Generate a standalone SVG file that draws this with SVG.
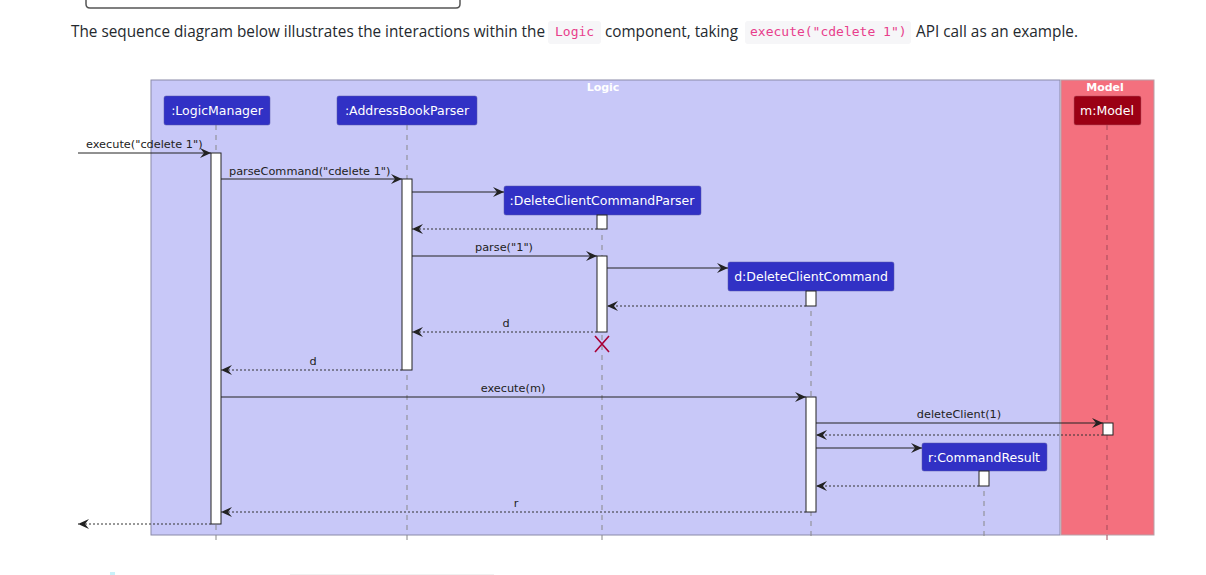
<svg xmlns="http://www.w3.org/2000/svg" width="1206" height="575" viewBox="0 0 1206 575">
  <style>
    .prose { font-family: "Open Sans", "Noto Sans", sans-serif; font-size: 15.5px; fill: #24292e; }
    .code { font-family: "DejaVu Sans Mono", "Liberation Mono", monospace; font-size: 13px; fill: #e83e8c; }
    .codebg { fill: #f6f6f8; }
    .box-title { font-family: "DejaVu Sans", sans-serif; font-size: 11px; font-weight: bold; fill: #ffffff; text-anchor: middle; }
    .part { fill: #3131c5; stroke: #5858a8; stroke-width: 0.5; }
    .part-model { fill: #9b0014; stroke: #b05060; stroke-width: 0.5; }
    .part-label { font-family: "DejaVu Sans", sans-serif; font-size: 12.5px; fill: #ffffff; text-anchor: middle; }
    .life { stroke: #888888; stroke-width: 1; stroke-dasharray: 5 5; fill: none; }
    .life-model { stroke: #a04a5a; stroke-width: 1; stroke-dasharray: 5 5; fill: none; }
    .act { fill: #ffffff; stroke: #222222; stroke-width: 1; }
    .msg { stroke: #222222; stroke-width: 1; fill: none; marker-end: url(#head); }
    .ret { stroke: #333333; stroke-width: 1; stroke-dasharray: 2 2; fill: none; marker-end: url(#head); }
    .lbl { font-family: "DejaVu Sans", sans-serif; font-size: 11.3px; fill: #222222; }
    .mid { text-anchor: middle; }
  </style>
  <defs>
    <marker id="head" viewBox="0 0 12 10" refX="11" refY="5" markerWidth="12" markerHeight="10" markerUnits="userSpaceOnUse" orient="auto">
      <path d="M0,0 L11,5 L0,10 L4,5 Z" fill="#222222"/>
    </marker>
  </defs>

  <rect width="1206" height="575" fill="#ffffff"/>

  <!-- card edge above the paragraph -->
  <path d="M86,-4 L86,4 Q86,8 90,8 L456,8 Q460,8 460,4 L460,-4" fill="none" stroke="#555555" stroke-width="1.5"/>

  <!-- intro paragraph -->
  <g id="intro">
    <text class="prose" x="71" y="37" textLength="474" lengthAdjust="spacingAndGlyphs">The sequence diagram below illustrates the interactions within the</text>
    <rect class="codebg" x="548" y="21" width="53" height="23" rx="3"/>
    <text class="code" x="555" y="36">Logic</text>
    <text class="prose" x="605" y="37" textLength="133" lengthAdjust="spacingAndGlyphs">component, taking</text>
    <rect class="codebg" x="745" y="21" width="166" height="23" rx="3"/>
    <text class="code" x="750" y="36">execute("cdelete 1")</text>
    <text class="prose" x="916" y="37" textLength="162" lengthAdjust="spacingAndGlyphs">API call as an example.</text>
  </g>

  <!-- component boxes -->
  <g id="box-logic">
    <rect x="151" y="80" width="909" height="455" fill="#c8c8f8" stroke="#8a8aa8" stroke-width="1"/>
    <text class="box-title" x="603" y="91">Logic</text>
  </g>
  <g id="box-model">
    <rect x="1061" y="80" width="93" height="455" fill="#f4707e" stroke="#b8a0a8" stroke-width="1"/>
    <text class="box-title" x="1105" y="91">Model</text>
  </g>

  <!-- lifelines -->
  <g id="lifelines">
    <line class="life" x1="216" y1="125" x2="216" y2="541"/>
    <line class="life" x1="407" y1="125" x2="407" y2="541"/>
    <line class="life" x1="602" y1="215" x2="602" y2="541"/>
    <line class="life" x1="811" y1="291" x2="811" y2="541"/>
    <line class="life" x1="984" y1="471" x2="984" y2="541"/>
    <line class="life-model" x1="1107" y1="125" x2="1107" y2="541"/>
  </g>

  <!-- participants -->
  <g id="logic-manager">
    <rect class="part" x="164" y="96" width="106" height="29" rx="2"/>
    <text class="part-label" x="217" y="115">:LogicManager</text>
    <rect class="act" x="211" y="153" width="10" height="371"/>
  </g>
  <g id="address-book-parser">
    <rect class="part" x="337" y="96" width="140" height="29" rx="2"/>
    <text class="part-label" x="407" y="115">:AddressBookParser</text>
    <rect class="act" x="402" y="179" width="10" height="191"/>
  </g>
  <g id="delete-client-command-parser">
    <rect class="part" x="504" y="186" width="197" height="29" rx="2"/>
    <text class="part-label" x="602" y="205">:DeleteClientCommandParser</text>
    <rect class="act" x="597" y="215" width="10" height="14"/>
    <rect class="act" x="597" y="256" width="10" height="76"/>
    <path d="M595,336 L609,352 M609,336 L595,352" stroke="#a80036" stroke-width="1.6"/>
  </g>
  <g id="delete-client-command">
    <rect class="part" x="728" y="262" width="166" height="29" rx="2"/>
    <text class="part-label" x="811" y="281">d:DeleteClientCommand</text>
    <rect class="act" x="806" y="291" width="10" height="15"/>
    <rect class="act" x="806" y="397" width="10" height="115"/>
  </g>
  <g id="command-result">
    <rect class="part" x="922" y="443" width="125" height="28" rx="2"/>
    <text class="part-label" x="984" y="462">r:CommandResult</text>
    <rect class="act" x="979" y="471" width="10" height="15"/>
  </g>
  <g id="model">
    <rect class="part-model" x="1074" y="96" width="67" height="29" rx="2"/>
    <text class="part-label" x="1107" y="115">m:Model</text>
    <rect class="act" x="1103" y="423" width="10" height="12"/>
  </g>

  <!-- messages -->
  <g id="connectors">
    <line class="msg" x1="78" y1="153" x2="211" y2="153"/>
    <text class="lbl" x="86" y="148">execute("cdelete 1")</text>

    <line class="msg" x1="221" y1="179" x2="402" y2="179"/>
    <text class="lbl" x="229" y="175">parseCommand("cdelete 1")</text>

    <line class="msg" x1="412" y1="192" x2="504" y2="192"/>
    <line class="ret" x1="597" y1="229" x2="412" y2="229"/>

    <line class="msg" x1="412" y1="256" x2="597" y2="256"/>
    <text class="lbl mid" x="504" y="251">parse("1")</text>

    <line class="msg" x1="607" y1="268" x2="728" y2="268"/>
    <line class="ret" x1="806" y1="306" x2="607" y2="306"/>

    <line class="ret" x1="597" y1="332" x2="412" y2="332"/>
    <text class="lbl mid" x="506" y="327">d</text>

    <line class="ret" x1="402" y1="370" x2="221" y2="370"/>
    <text class="lbl mid" x="313" y="365">d</text>

    <line class="msg" x1="221" y1="397" x2="806" y2="397"/>
    <text class="lbl mid" x="513" y="392">execute(m)</text>

    <line class="msg" x1="816" y1="423" x2="1103" y2="423"/>
    <text class="lbl mid" x="959" y="418">deleteClient(1)</text>
    <line class="ret" x1="1103" y1="435" x2="816" y2="435"/>

    <line class="msg" x1="816" y1="448" x2="922" y2="448"/>
    <line class="ret" x1="979" y1="486" x2="816" y2="486"/>

    <line class="ret" x1="806" y1="512" x2="221" y2="512"/>
    <text class="lbl mid" x="516" y="507">r</text>

    <line class="ret" x1="211" y1="524" x2="78" y2="524"/>
  </g>

  <!-- page fragments along the bottom edge -->
  <rect x="110" y="572" width="5" height="3" fill="#c8f2fa"/>
  <line x1="290" y1="574.5" x2="494" y2="574.5" stroke="#f0f0f0" stroke-width="1"/>
</svg>
